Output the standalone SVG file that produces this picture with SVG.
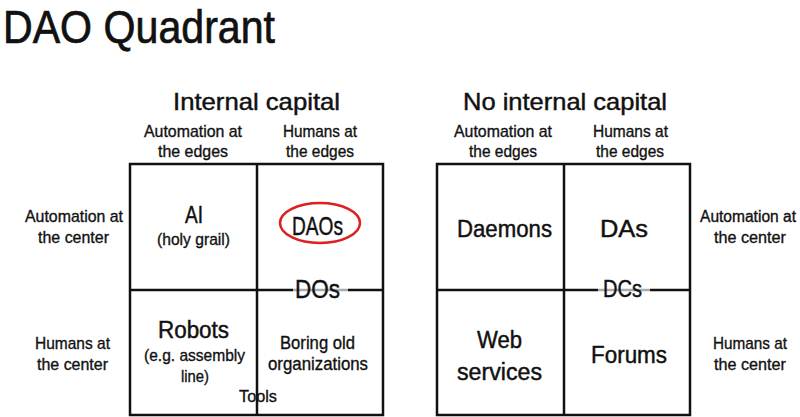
<svg xmlns="http://www.w3.org/2000/svg" width="800" height="417" viewBox="0 0 800 417">
<style>
text{font-family:"Liberation Sans",Arial,sans-serif;fill:#111;stroke:#111;stroke-width:0.35;text-anchor:middle}
.s{font-size:17px}
.m{font-size:18px}
.l{font-size:23px;stroke-width:0.45}
.h{font-size:24px;stroke-width:0.45}
.grid{fill:none;stroke:#111;stroke-width:2.5}
.mask{fill:#fff;opacity:0.65}
</style>
<rect width="800" height="417" fill="#fff"/>
<g id="title"><text x="3" y="43" style="font-size:46px;text-anchor:start;stroke-width:0.7" textLength="272" lengthAdjust="spacingAndGlyphs">DAO Quadrant</text></g>

<g id="grid-lines">
<rect class="grid" x="130" y="164" width="253" height="251"/>
<line class="grid" x1="257" y1="164" x2="257" y2="415"/>
<line class="grid" x1="130" y1="290" x2="383" y2="290"/>
<rect class="grid" x="437" y="164" width="253" height="251"/>
<line class="grid" x1="564" y1="164" x2="564" y2="415"/>
<line class="grid" x1="437" y1="290" x2="690" y2="290"/>
</g>

<g id="left-headers">
<text class="h" x="256.5" y="110" textLength="167" lengthAdjust="spacingAndGlyphs">Internal capital</text>
<text class="s" x="193" y="137" textLength="98" lengthAdjust="spacingAndGlyphs">Automation at</text>
<text class="s" x="193" y="157" textLength="70" lengthAdjust="spacingAndGlyphs">the edges</text>
<text class="s" x="320" y="137" textLength="74" lengthAdjust="spacingAndGlyphs">Humans at</text>
<text class="s" x="320" y="157" textLength="68" lengthAdjust="spacingAndGlyphs">the edges</text>
<text class="s" x="74" y="222" textLength="98" lengthAdjust="spacingAndGlyphs">Automation at</text>
<text class="s" x="73.5" y="243" textLength="71" lengthAdjust="spacingAndGlyphs">the center</text>
<text class="s" x="72.5" y="349" textLength="75" lengthAdjust="spacingAndGlyphs">Humans at</text>
<text class="s" x="72.5" y="370" textLength="71" lengthAdjust="spacingAndGlyphs">the center</text>
</g>

<g id="cell-ai">
<text class="l" x="194" y="223" textLength="18" lengthAdjust="spacingAndGlyphs">AI</text>
<text class="s" x="193.5" y="245" textLength="73" lengthAdjust="spacingAndGlyphs">(holy grail)</text>
</g>
<g id="cell-daos">
<ellipse cx="320" cy="223" rx="40" ry="20" fill="none" stroke="#dd1f1f" stroke-width="2.5"/>
<text class="l" x="317.5" y="235" style="font-size:26px" textLength="51" lengthAdjust="spacingAndGlyphs">DAOs</text>
</g>
<g id="label-dos">
<rect class="mask" x="293" y="285" width="55" height="9"/>
<text class="l" x="317.5" y="298" style="font-size:26px" textLength="45" lengthAdjust="spacingAndGlyphs">DOs</text>
</g>
<g id="cell-robots">
<text class="l" x="193.5" y="338" textLength="71" lengthAdjust="spacingAndGlyphs">Robots</text>
<text class="s" x="194.5" y="361" textLength="101" lengthAdjust="spacingAndGlyphs">(e.g. assembly</text>
<text class="s" x="195" y="382" textLength="28" lengthAdjust="spacingAndGlyphs">line)</text>
</g>
<g id="cell-boring">
<text class="m" x="317.5" y="349" textLength="75" lengthAdjust="spacingAndGlyphs">Boring old</text>
<text class="m" x="318" y="370" textLength="100" lengthAdjust="spacingAndGlyphs">organizations</text>
</g>
<g id="label-tools">
<text class="s" x="258" y="402" textLength="38" lengthAdjust="spacingAndGlyphs">Tools</text>
</g>

<g id="right-headers">
<text class="h" x="565" y="110" textLength="204" lengthAdjust="spacingAndGlyphs">No internal capital</text>
<text class="s" x="503" y="137" textLength="98" lengthAdjust="spacingAndGlyphs">Automation at</text>
<text class="s" x="503" y="157" textLength="68" lengthAdjust="spacingAndGlyphs">the edges</text>
<text class="s" x="630.5" y="137" textLength="75" lengthAdjust="spacingAndGlyphs">Humans at</text>
<text class="s" x="630" y="157" textLength="68" lengthAdjust="spacingAndGlyphs">the edges</text>
<text x="748" y="222" style="font-size:16px" textLength="96" lengthAdjust="spacingAndGlyphs">Automation at</text>
<text class="s" x="750" y="243" textLength="72" lengthAdjust="spacingAndGlyphs">the center</text>
<text class="s" x="750" y="349" textLength="74" lengthAdjust="spacingAndGlyphs">Humans at</text>
<text class="s" x="750" y="370" textLength="72" lengthAdjust="spacingAndGlyphs">the center</text>
</g>

<g id="cell-daemons">
<text class="l" x="504.5" y="237" textLength="95" lengthAdjust="spacingAndGlyphs">Daemons</text>
</g>
<g id="cell-das">
<text class="l" x="624" y="237" textLength="48" lengthAdjust="spacingAndGlyphs">DAs</text>
</g>
<g id="label-dcs">
<rect class="mask" x="598" y="285" width="52" height="9"/>
<text class="l" x="622.5" y="297" textLength="39" lengthAdjust="spacingAndGlyphs">DCs</text>
</g>
<g id="cell-web">
<text class="l" x="499.5" y="348" textLength="45" lengthAdjust="spacingAndGlyphs">Web</text>
<text class="l" x="499.5" y="380" textLength="85" lengthAdjust="spacingAndGlyphs">services</text>
</g>
<g id="cell-forums">
<text class="l" x="629" y="363" textLength="76" lengthAdjust="spacingAndGlyphs">Forums</text>
</g>
</svg>
